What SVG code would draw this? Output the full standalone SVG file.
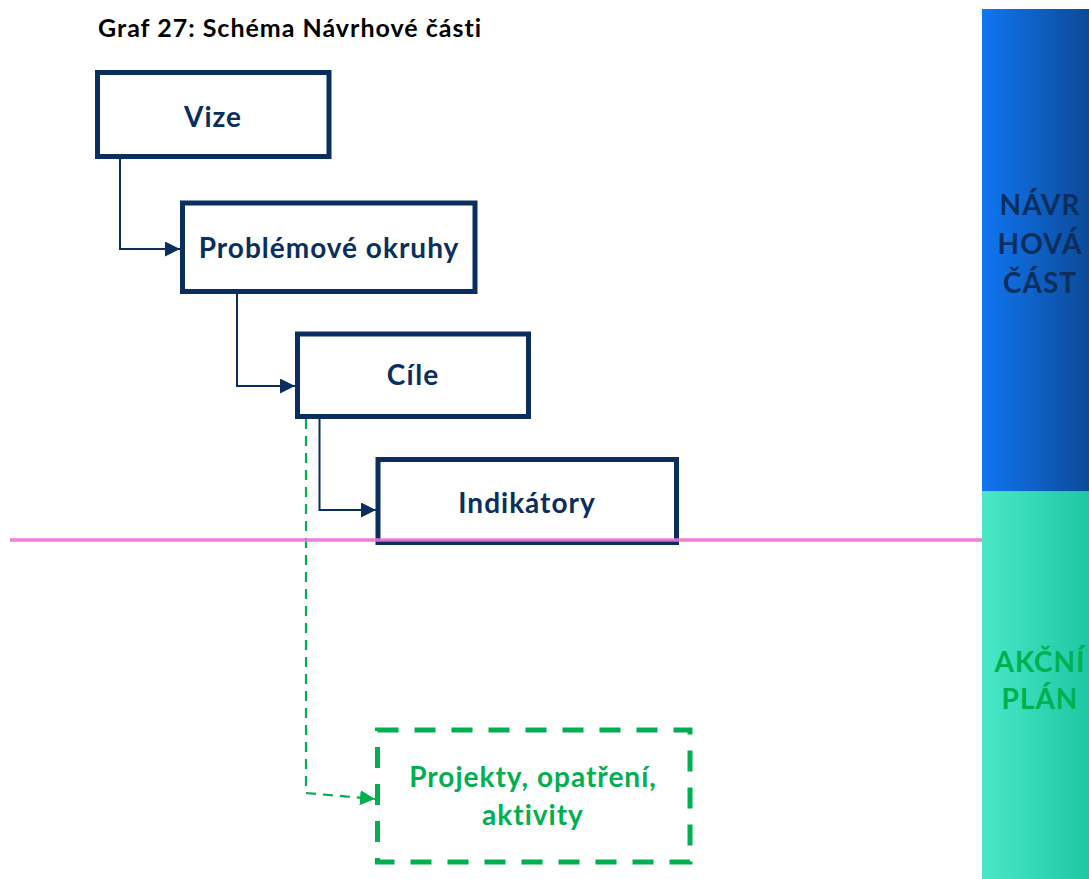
<svg xmlns="http://www.w3.org/2000/svg" width="1089" height="879" viewBox="0 0 1089 879">
<style>
.box{fill:#fff;stroke:#0A2F5E;stroke-width:5}
.lbl{font-family:Lato,"Liberation Sans",sans-serif;font-weight:bold;font-size:28px;letter-spacing:1px;fill:#0A2F5E;text-anchor:middle}
.glbl{font-family:Lato,"Liberation Sans",sans-serif;font-weight:bold;font-size:28px;letter-spacing:1px;fill:#00B050;text-anchor:middle}
.conn{fill:none;stroke:#0A2F5E;stroke-width:2}
.gconn{fill:none;stroke:#00B050;stroke-width:2.2;stroke-dasharray:10 7}
</style>
<defs>
<linearGradient id="gb" x1="0" y1="0" x2="1" y2="0">
<stop offset="0" stop-color="#1076F2"/><stop offset="1" stop-color="#0C4A98"/>
</linearGradient>
<linearGradient id="gt" x1="0" y1="0" x2="1" y2="0">
<stop offset="0" stop-color="#4AE8C8"/><stop offset="1" stop-color="#1EC7A3"/>
</linearGradient>
<marker id="an" markerUnits="userSpaceOnUse" markerWidth="16" markerHeight="16" refX="15" refY="7.5" orient="auto">
<path d="M0,0 L15,7.5 L0,15 z" fill="#0A2F5E"/>
</marker>
<marker id="ag" markerUnits="userSpaceOnUse" markerWidth="16" markerHeight="16" refX="15" refY="7.5" orient="auto">
<path d="M0,0 L15,7.5 L0,15 z" fill="#00B050"/>
</marker>
</defs>
<rect width="1089" height="879" fill="#fff"/>
<text x="98" y="37" font-family="Lato,'Liberation Sans',sans-serif" font-weight="bold" font-size="25" letter-spacing="1" fill="#000">Graf 27: Schéma Návrhové části</text>

<g id="panel-navrhova">
<rect x="982" y="9" width="107" height="482" fill="url(#gb)"/>
<text class="lbl" x="1040" y="215">NÁVR</text>
<text class="lbl" x="1040" y="254">HOVÁ</text>
<text class="lbl" x="1040" y="293">ČÁST</text>
</g>
<g id="panel-akcni">
<rect x="982" y="491" width="107" height="388" fill="url(#gt)"/>
<text class="glbl" x="1040" y="672">AKČNÍ</text>
<text class="glbl" x="1040" y="709">PLÁN</text>
</g>

<g id="connectors">
<path class="conn" d="M120,158 V249 H180" marker-end="url(#an)"/>
<path class="conn" d="M237,294 V386 H295" marker-end="url(#an)"/>
<path class="conn" d="M319.5,419 V510 H376" marker-end="url(#an)"/>
<path class="gconn" d="M306,419 V793 L375,799" marker-end="url(#ag)"/>
</g>

<g id="vize">
<rect class="box" x="97.5" y="72.5" width="231.5" height="84"/>
<text class="lbl" x="213" y="126.5">Vize</text>
</g>
<g id="problemove-okruhy">
<rect class="box" x="182.5" y="203" width="292.5" height="88.5"/>
<text class="lbl" x="329" y="258">Problémové okruhy</text>
</g>
<g id="cile">
<rect class="box" x="297.5" y="334" width="231" height="82.5"/>
<text class="lbl" x="413" y="385">Cíle</text>
</g>
<g id="indikatory">
<rect class="box" x="378" y="459.5" width="298.5" height="83"/>
<text class="lbl" x="527" y="512.5">Indikátory</text>
</g>
<g id="projekty">
<rect x="377.5" y="730" width="312.5" height="132" fill="none" stroke="#00B050" stroke-width="5" stroke-dasharray="21 16"/>
<text class="glbl" x="533" y="787">Projekty, opatření,</text>
<text class="glbl" x="533" y="825">aktivity</text>
</g>

<line x1="10" y1="540" x2="982" y2="540" stroke="#F071D6" stroke-width="3.5" stroke-opacity="0.9"/>
</svg>
